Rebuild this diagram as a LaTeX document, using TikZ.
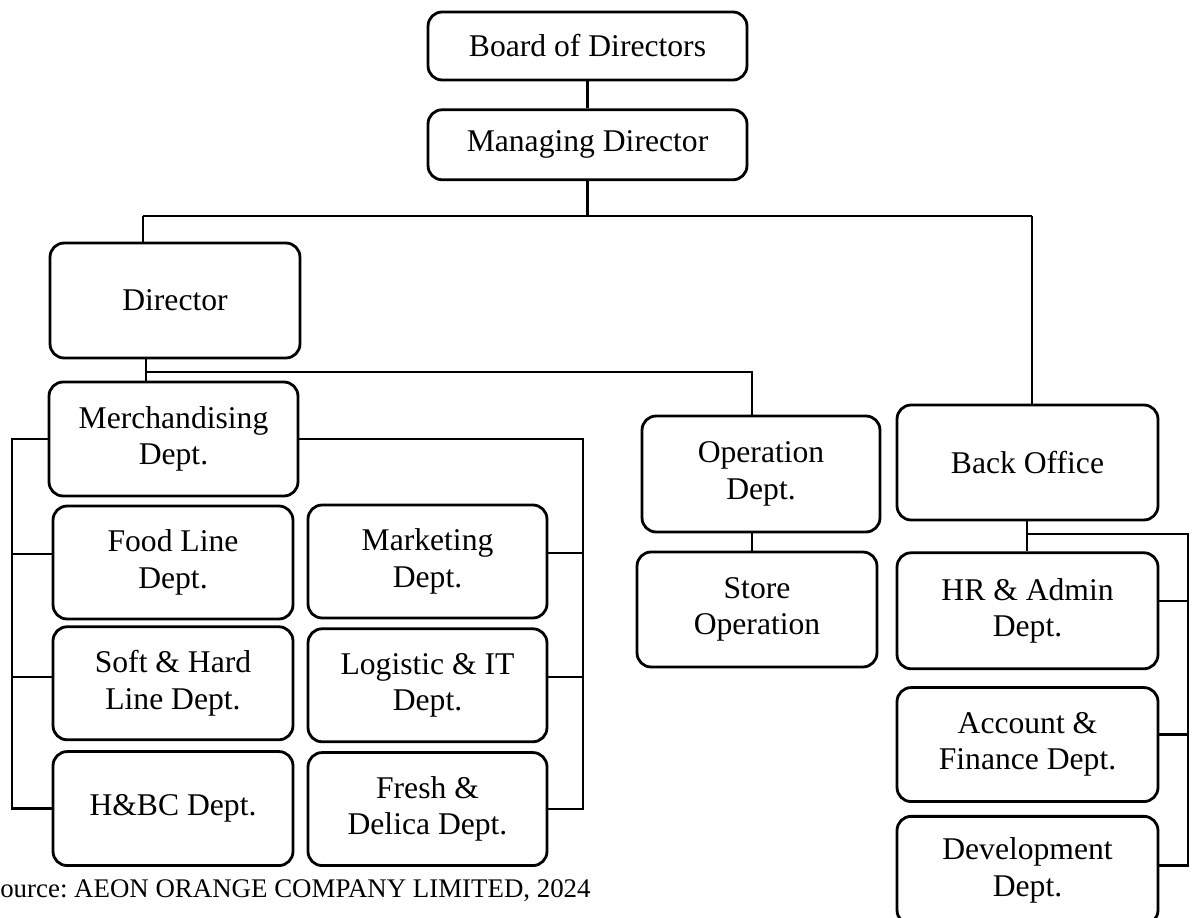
\documentclass[tikz,border=0pt]{standalone}
\usepackage{fontspec}
\setmainfont{Liberation Serif}
\usetikzlibrary{positioning}
\frenchspacing

\tikzset{
  unit/.style={draw, line width=1.6pt, rounded corners=8pt, align=center, inner sep=0pt,
    minimum width=#1, font=\fontsize{18}{20.8}\selectfont},
  unit/.default=4.8cm,
  link/.style={line width=1.3pt},
  thinlink/.style={line width=0.8pt}
}

\begin{document}
\begin{tikzpicture}[x=0.02cm, y=-0.02cm]
\useasboundingbox (0,0) rectangle (1192,918);
% top of the chart
\node[unit=6.38cm, minimum height=1.36cm] (board) at (587.5,46) {Board of Directors};
\node[unit=6.38cm, minimum height=1.40cm, below=0.54cm of board] (md) {Managing Director};
\node[unit=5cm, minimum height=2.30cm] (director) at (175,300.5) {Director};
% merchandising side
\node[unit=4.98cm, minimum height=2.28cm] (merch) at (173.5,439) {Merchandising\\Dept.};
\node[unit, minimum height=2.26cm] (food) at (173,562.5) {Food Line\\Dept.};
\node[unit, minimum height=2.26cm, below=0.1cm of food] (soft) {Soft \& Hard\\Line Dept.};
\node[unit, minimum height=2.28cm, below=0.18cm of soft] (hbc) {H\&BC Dept.};
\node[unit=4.78cm, minimum height=2.26cm] (marketing) at (427.5,561.5) {Marketing\\Dept.};
\node[unit=4.78cm, minimum height=2.26cm, below=0.16cm of marketing] (logistic) {Logistic \& IT\\Dept.};
\node[unit=4.78cm, minimum height=2.26cm, below=0.16cm of logistic] (fresh) {Fresh \&\\Delica Dept.};
% operation side
\node[unit=4.76cm, minimum height=2.32cm] (operation) at (761,474) {Operation\\Dept.};
\node[unit, minimum height=2.30cm] (store) at (757,609.5) {Store\\Operation};
% back office side
\node[unit=5.22cm, minimum height=2.30cm] (backoffice) at (1027.5,462.5) {Back Office};
\node[unit=5.22cm, minimum height=2.32cm, below=0.6cm of backoffice] (hr) {HR \& Admin\\Dept.};
\node[unit=5.22cm, minimum height=2.28cm, below=0.32cm of hr] (account) {Account \&\\Finance Dept.};
\node[unit=5.22cm, minimum height=2.16cm, below=0.24cm of account] (development) {Development\\Dept.};

\node[anchor=base west, inner sep=0pt, font=\fontsize{15.3}{18}\selectfont] (source) at (-15,897)
  {Source: AEON ORANGE COMPANY LIMITED, 2024};

% bus lines
\coordinate (busL) at (143,216);
\coordinate (busR) at (1032,216);
\coordinate (dirbus) at (146,372);
\coordinate (opbus) at (752,372);
\coordinate (lbus) at (12,439);
\coordinate (rbus) at (583,439);
\coordinate (bojoin) at (1027,534);
\coordinate (rbo) at (1188,534);

\draw[link] (board) -- (md);
\draw[link] (md.south) -- (md.south |- busL);
\draw[thinlink] (busL) -- (busR);
\draw[thinlink] (busL) -- (busL |- director.north);
\draw[link] (busR) -- (busR |- backoffice.north);

\draw[link] (dirbus |- director.south) -- (dirbus |- merch.north);
\draw[link] (dirbus) -- (opbus) -- (opbus |- operation.north);
\draw[link] (opbus |- operation.south) -- (opbus |- store.north);

\draw[link] (merch.west) -- (lbus) |- (hbc.west);
\draw[link] ([yshift=0.17cm]food.west) -| (lbus);
\draw[link] ([yshift=0.13cm]soft.west) -| (lbus);
\draw[link] (merch.east) -- (rbus) |- (fresh.east);
\draw[link] ([yshift=0.17cm]marketing.east) -| (rbus);
\draw[link] ([yshift=0.17cm]logistic.east) -| (rbus);

\draw[link] (bojoin |- backoffice.south) -- (bojoin |- hr.north);
\draw[link] (bojoin) -- (rbo) |- ([yshift=0.1cm]development.east);
\draw[link] ([yshift=0.2cm]hr.east) -| (rbo);
\draw[link] ([yshift=0.2cm]account.east) -| (rbo);
\end{tikzpicture}
\end{document}
